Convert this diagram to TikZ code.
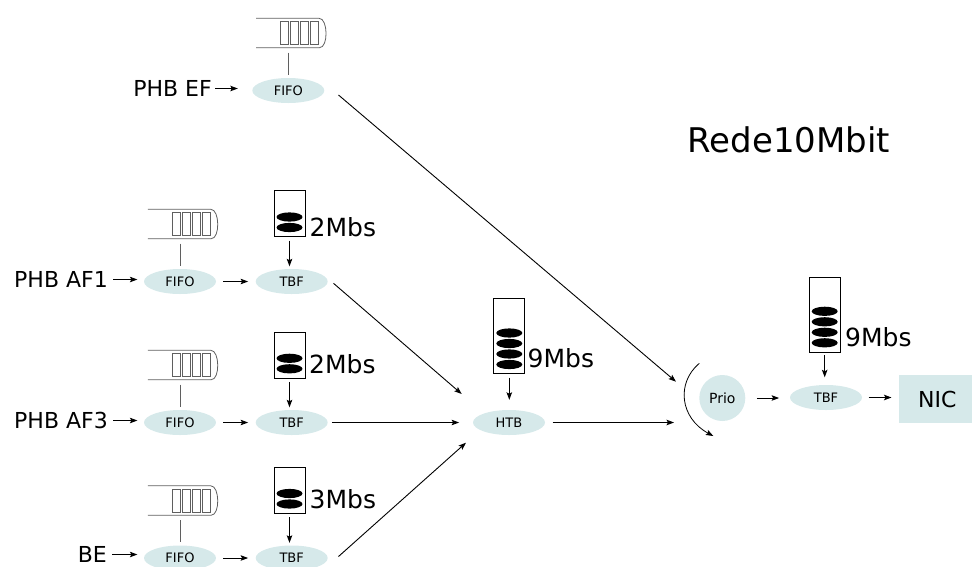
\documentclass[tikz,border=0pt]{standalone}
\usepackage{fontspec}
\setmainfont{DejaVu Sans}
\usetikzlibrary{shapes.geometric,arrows.meta}
\definecolor{qfill}{RGB}{214,233,234}
\definecolor{qgray}{RGB}{95,95,95}

% FIFO queue icon: open on the left, rounded on the right, four packet slots
% #1 name, #2 x centre of the FIFO below it, #3 y centre of that FIFO
\newcommand{\queueicon}[3]{%
  \node[queuebox] (#1) at (#2+3, #3-57.5) {};
  \draw[qline] (#1.north west) -- ++(63,0)
     .. controls +(9,0) and +(9,0) .. ([xshift=-7pt]#1.south east)
     -- (#1.south west);
  \foreach \k in {0,...,3}{\draw[qline] (#2-7.5+10*\k, #3-69) rectangle ++(8,23);}
}
% token bucket: #1 name, #2 x centre, #3 bottom y, #4 height, #5 tokens
\newcommand{\tokenbucket}[5]{%
  \node[bucketbox, minimum height=#4pt, anchor=south] (#1) at (#2,#3) {};
  \foreach \i in {1,...,#5}{\fill (#2, #3-9.5-10.5*\i+10.5) ellipse [x radius=13pt, y radius=4.6pt];}
}

\begin{document}
\begin{tikzpicture}[x=1pt,y=-1pt,
  proc/.style={ellipse, fill=qfill, inner sep=0pt, minimum width=72pt, minimum height=25pt,
               font=\fontsize{13}{15}\selectfont},
  lbl/.style={inner sep=0pt, anchor=east, font=\fontsize{22}{26}\selectfont},
  rate/.style={inner sep=0pt, anchor=base west, font=\fontsize{25}{30}\selectfont},
  arr/.style={-{Stealth[length=7.5pt,width=5.5pt,inset=1.5pt]}, line width=0.9pt},
  link/.style={line width=0.8pt, qgray},
  qline/.style={line width=0.8pt, qgray},
  queuebox/.style={inner sep=0pt, minimum width=70pt, minimum height=29pt},
  bucketbox/.style={draw, line width=0.8pt, inner sep=0pt, minimum width=31pt},
]
\useasboundingbox (0,0) rectangle (972,566);

% ---- class EF ----
\node[proc] (fEF) at (288.3,90.5) {FIFO};
\node[lbl] (lEF) at (212,88.5) {PHB EF};
\queueicon{qEF}{288.3}{90.5}
\draw[link, shorten <=5pt, shorten >=3pt] (fEF.north |- qEF.south) -- (fEF.north);
\draw[arr, shorten <=3pt, shorten >=14.3pt] (lEF.east) -- (lEF.east -| fEF.west);

% ---- class AF1 ----
\node[proc] (fA1) at (180,281.5) {FIFO};
\node[proc] (tA1) at (291.7,281.5) {TBF};
\node[lbl] (lA1) at (108,279.5) {PHB AF1};
\queueicon{qA1}{180}{281.5}
\tokenbucket{bA1}{289.5}{237}{46}{2}
\node[rate] (rA1) at (309.5,236) {2Mbs};

% ---- class AF3 ----
\node[proc] (fA3) at (180,422.5) {FIFO};
\node[proc] (tA3) at (291.7,422.5) {TBF};
\node[lbl] (lA3) at (108,420.5) {PHB AF3};
\queueicon{qA3}{180}{422.5}
\tokenbucket{bA3}{289.5}{378.3}{46}{2}
\node[rate] (rA3) at (309,373.5) {2Mbs};

% ---- class BE ----
\node[proc] (fBE) at (180,558) {FIFO};
\node[proc] (tBE) at (291.7,558) {TBF};
\node[lbl] (lBE) at (107,554.5) {BE};
\queueicon{qBE}{180}{558}
\tokenbucket{bBE}{289.5}{513.5}{46}{2}
\node[rate] (rBE) at (309.5,508.5) {3Mbs};

% row connectors
\foreach \r in {A1,A3,BE}{
  \draw[link, shorten <=5pt, shorten >=3pt] (f\r.north |- q\r.south) -- (f\r.north);
  \draw[arr, shorten <=5pt, shorten >=6.4pt] (l\r.east) -- (l\r.east -| f\r.west);
  \draw[arr, shorten <=7pt, shorten >=7.4pt] (f\r.east) -- (t\r.west);
  \draw[arr, shorten <=3.5pt, shorten >=2.5pt] (b\r.south) -- (b\r.south |- t\r.north);
}

% ---- HTB for the assured and best effort classes ----
\node[proc] (htb) at (509,422.5) {HTB};
\tokenbucket{bH}{509.3}{374}{75}{4}
\node[rate] (rH) at (527.5,367.5) {9Mbs};
\draw[arr, shorten <=3.5pt, shorten >=10pt] (bH.south) -- (bH.south |- htb.north);

\coordinate (inA1) at (461.7,394);
\coordinate (inBE) at (466,442.7);
\draw[arr] ([shift={(5.6,1.8)}]tA1.east) -- (inA1);
\draw[arr, shorten <=4pt, shorten >=13.7pt] (tA3.east) -- (htb.west);
\draw[arr] ([shift={(10.6,-1.5)}]tBE.east) -- (inBE);

% ---- priority scheduler ----
\coordinate (inEF) at (676,381.7);
\coordinate (inH) at (674,422.5);
\coordinate (arcS) at (699.3,363.3);
\coordinate (arcE) at (713.3,436);
\draw[arr] ([shift={(14,4.5)}]fEF.east) -- (inEF);
\draw[arr, shorten <=7.3pt] (htb.east) -- (inH);
\draw[arr, line width=0.8pt] (arcS) .. controls (676,383) and (680,418) .. (arcE);

\node[circle, fill=qfill, inner sep=0pt, minimum size=46pt, font=\fontsize{14}{16}\selectfont]
  (prio) at (722.3,398) {Prio};

% ---- link shaper and interface ----
\node[proc] (tOut) at (826,397.5) {TBF};
\tokenbucket{bOut}{824.7}{352.3}{75}{4}
\node[rate] (rOut) at (845,346.7) {9Mbs};
\draw[arr, shorten <=3pt, shorten >=7.5pt] (bOut.south) -- (bOut.south |- tOut.north);
\node[fill=qfill, inner sep=0pt, minimum width=76pt, minimum height=48.5pt,
      font=\fontsize{22}{26}\selectfont] (nic) at (937.3,399.2) {NIC};
\draw[arr, shorten <=11.4pt, shorten >=10.7pt] (prio.east) -- (prio.east -| tOut.west);
\draw[arr, shorten <=6.3pt, shorten >=7.6pt] (tOut.east) -- (tOut.east -| nic.west);

\node[inner sep=0pt, anchor=base west, font=\fontsize{34}{40}\selectfont] (net) at (687.5,152) {Rede10Mbit};
\end{tikzpicture}
\end{document}
